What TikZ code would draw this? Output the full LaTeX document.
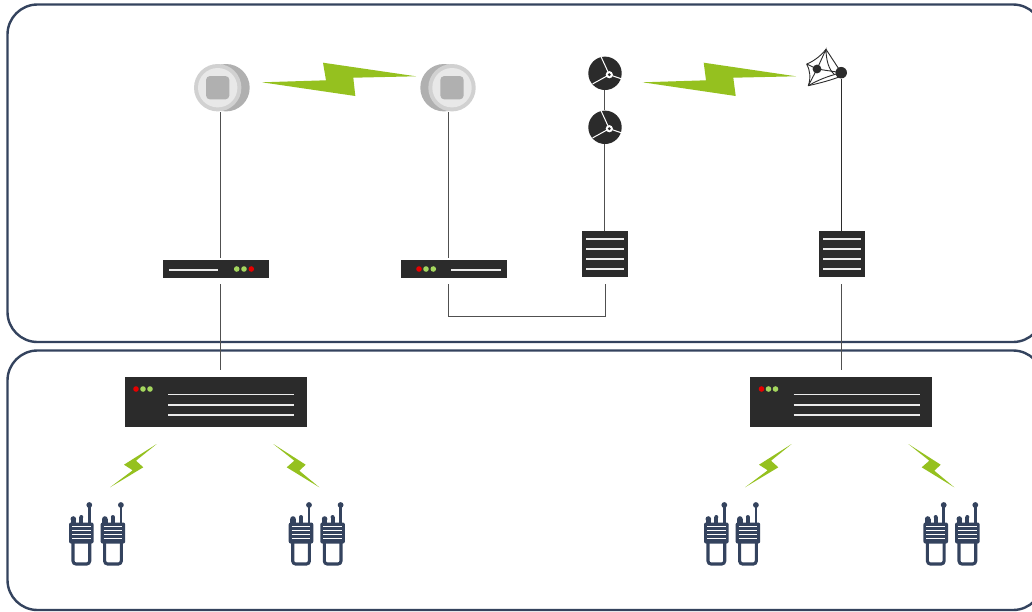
\documentclass[tikz,border=0pt]{standalone}
\definecolor{panelc}{HTML}{34435E}
\definecolor{devc}{HTML}{2B2B2B}
\definecolor{boltc}{HTML}{95C11F}
\definecolor{redc}{HTML}{E60000}
\definecolor{ledc}{HTML}{A4D65E}
\definecolor{linec}{HTML}{505050}
\tikzset{
  x=1pt,y=-1pt,
  panel/.style={draw=panelc,line width=2.4pt,rounded corners=30pt,fill=white},
  device/.style={fill=devc,draw=none,inner sep=0pt,outer sep=0pt,minimum width=#1},
  link/.style={draw=linec,line width=1.4pt},
  slit/.style={draw=white!92!black,line width=1.5pt},
  bolt/.style={fill=boltc,draw=none},
  spoke/.style={draw=white,line width=1pt},
  meshl/.style={draw=devc,line width=.9pt},
  pics/hub/.style={code={
    \fill[devc] (0,0) circle[radius=16.7];
    \draw[spoke] (4.3,1.4) -- (-4,-16.6);
    \draw[spoke] (4.3,1.4) -- (-12.4,10.6);
    \draw[spoke] (4.3,1.4) -- (16.6,5.6);
    \fill[white] (4.3,1.4) circle[radius=3.6];
    \fill[devc] (4.3,1.4) circle[radius=1.6];
  }},
  pics/disc/.style={code={
    \fill[black!31] (#1,0) circle[radius=23.7];
    \fill[black!18] (0,0) circle[radius=23.7];
    \fill[black!9] (0,0) circle[radius=19.7];
    \fill[black!31,rounded corners=4pt] (-11.7,-11.7) rectangle (11.7,11.7);
  }},
  pics/radio/.style={code={
    \draw[panelc,line width=2.8pt] (20,0) -- (20,18);
    \fill[panelc] (20,0) circle[radius=2.9];
    \fill[panelc] (1.2,19) rectangle (6.8,14);
    \fill[panelc] (4,14) circle[radius=2.8];
    \fill[panelc] (10,19) rectangle (14,12);
    \fill[panelc] (12,12) circle[radius=2];
    \fill[panelc,rounded corners=2pt] (-.3,17.5) rectangle (24.3,38.5);
    \foreach \s in {21.5,25.3,29,33}{\draw[white,line width=1pt] (2.6,\s) -- (21.4,\s);}
    \draw[panelc,line width=3.1pt,rounded corners=3pt] (3.7,37) -- (3.7,59) -- (20.4,59) -- (20.4,37);
  }},
  pics/pair/.style={code={
    \pic at (0,0) {radio};
    \pic at (31.6,0) {radio};
  }},
}
\begin{document}
\begin{tikzpicture}
\useasboundingbox (0,0) rectangle (1032,611);
% panels
\draw[panel] (7.5,4.5) rectangle (1043,342);
\draw[panel] (7.5,350.5) rectangle (1043,610);
% bolts
\fill[bolt] (262,82.3) -- (326,80.3) -- (323,62.7) -- (416,76.3) -- (353.3,77.7) -- (355.3,96) -- cycle;
\fill[bolt] (642.7,82.3) -- (706,80.3) -- (703.7,62.7) -- (796,76.3) -- (733.3,77.7) -- (735.7,96) -- cycle;
\foreach \d in {0,635}{
\begin{scope}[shift={(\d,0)}]
\fill[bolt] (156.7,444) -- (124,464.7) -- (132.7,470.3) -- (110,487.3) -- (143.3,467.3) -- (136,460.7) -- cycle;
\fill[bolt] (273.3,444) -- (305.7,464.7) -- (299.3,470.7) -- (319.3,487.3) -- (286.7,467.3) -- (294.3,460.7) -- cycle;
\end{scope}}
% top devices
\pic at (217.7,87.7) {disc=8.3};
\pic at (452,87.7) {disc=-8};
\node[inner sep=0pt,minimum size=47pt] (dL) at (221,87.7) {};
\node[inner sep=0pt,minimum size=47pt] (dR) at (448.7,87.7) {};
\pic at (605,73.3) {hub};
\pic at (605,127.3) {hub};
\node[circle,inner sep=0pt,minimum size=33.4pt] (h1) at (604.3,73.3) {};
\node[circle,inner sep=0pt,minimum size=33.4pt] (h2) at (604.3,127.3) {};
% mesh
\draw[meshl,line join=round] (806.7,64) .. controls (812,62) and (820,57) .. (826,49.3) -- (841.3,72.7);
\draw[meshl] (806.7,64) .. controls (810,70) and (811,78) .. (808.3,85.7);
\draw[meshl] (806.7,64) -- (817,69) -- (826,49.3) .. controls (826,60) and (829,70) .. (834,74) ;
\draw[meshl] (808.3,85.7) -- (817,69) -- (841.3,72.7);
\draw[meshl] (808.3,85.7) .. controls (818,80) and (828,76) .. (841.3,72.7);
\draw[meshl] (808.3,85.7) .. controls (820,83) and (832,80) .. (841.3,76);
\fill[devc] (817,69) circle[radius=4.4];
\node[circle,fill=devc,inner sep=0pt,minimum size=11.5pt] (mesh) at (841.2,72.7) {};
% switches
\node[device=106pt,minimum height=18pt] (sw1) at (216,269) {};
\node[device=106pt,minimum height=18pt] (sw2) at (454,269) {};
\draw[slit] (169,270) -- (218,270);
\draw[slit] (451,270) -- (501,270);
\foreach \x/\c in {236.7/ledc,244/ledc,251.3/redc,419/redc,426/ledc,433.3/ledc}{\fill[\c] (\x,269) circle[radius=2.8];}
% servers
\node[device=46pt,minimum height=46pt] (srv1) at (605,254) {};
\node[device=46pt,minimum height=46pt] (srv2) at (842,254) {};
\foreach \d in {0,237}{\foreach \y in {239,249,259,269}{\draw[slit] (586+\d,\y) -- (623.5+\d,\y);}}
% large units
\node[device=182pt,minimum height=50pt] (big1) at (216,402) {};
\node[device=182pt,minimum height=50pt] (big2) at (841,402) {};
\foreach \d in {0,625.5}{
  \foreach \y in {394.7,405,415}{\draw[slit] (168+\d,\y) -- (294+\d,\y);}
  \foreach \x/\c in {136/redc,143/ledc,150/ledc}{\fill[\c] (\x+\d,389) circle[radius=2.8];}
}
% radios
\pic at (69.3,505) {pair};
\pic at (289,505) {pair};
\pic at (704.3,505) {pair};
\pic at (923.7,505) {pair};
% connector ends
\coordinate (a1) at (220.7,112);
\coordinate (a2) at (220.7,258);
\coordinate (a3) at (220.7,284);
\coordinate (a4) at (220.7,369.5);
\coordinate (b1) at (448.7,112);
\coordinate (b2) at (448.7,258);
\coordinate (b3) at (448.7,284);
\coordinate (b4) at (605.7,284);
\coordinate (c1) at (604.3,231);
\coordinate (d3) at (841.2,284);
\coordinate (d4) at (841.2,369.5);
\coordinate (d1) at (841.2,231);
\draw[link] (a1) -- (a2);
\draw[link] (a3) -- (a4);
\draw[link] (b1) -- (b2);
\draw[link] (b3) -- (448.7,316.5) -- (605.7,316.5) -- (b4);
\draw[link] (h1.south) -- (h2.north);
\draw[link] (h2.south) -- (c1);
\draw[link,draw=devc] (mesh.south) -- (d1);
\draw[link] (d3) -- (d4);
\end{tikzpicture}
\end{document}
